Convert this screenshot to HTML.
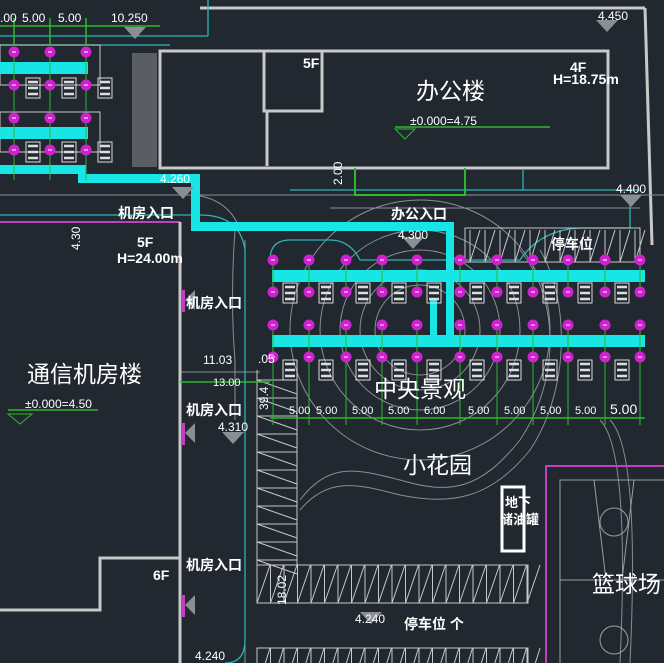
<!DOCTYPE html>
<html><head><meta charset="utf-8"><style>
html,body{margin:0;padding:0;background:#212830;}
svg{display:block}
text{font-family:"Liberation Sans","Noto Sans CJK SC",sans-serif;fill:#fff}
</style></head><body>
<svg id="s" width="664" height="663" viewBox="0 0 664 663" xmlns="http://www.w3.org/2000/svg">
<rect width="664" height="663" fill="#212830"/>
<g fill="none" stroke="#8a8f96" stroke-width="1">
<circle cx="420" cy="330" r="45"/><circle cx="420" cy="330" r="60"/><circle cx="420" cy="330" r="80"/>
<circle cx="420" cy="330" r="100"/><circle cx="420" cy="330" r="130"/>
<path d="M300 500 C330 460 360 470 400 480 C450 495 480 490 520 440 C560 380 560 300 520 250"/>
<path d="M300 510 C330 475 360 485 400 495 C450 505 490 500 530 450 C570 390 570 300 540 250"/>
<path d="M235 230 Q230 300 235 360 L235 420"/>
<path d="M195 195 Q230 200 240 230"/>
<path d="M600 420 Q630 450 620 663"/>
<path d="M610 420 Q640 450 630 663"/>
<line x1="200" y1="8" x2="645" y2="8" stroke="#c8c8c8" stroke-width="3"/>
<line x1="645" y1="8" x2="652" y2="245" stroke="#c8c8c8" stroke-width="3"/>
<line x1="0" y1="195" x2="664" y2="195"/>
<line x1="330" y1="208" x2="640" y2="208"/>
<line x1="245" y1="240" x2="245" y2="663"/>
<line x1="180" y1="372" x2="260" y2="372"/>
</g>
<g fill="none" stroke="#2ab4b8" stroke-width="1.3">
<line x1="0" y1="36" x2="208" y2="36"/><line x1="208" y1="0" x2="208" y2="36"/>
<line x1="0" y1="45" x2="170" y2="45"/>
<path d="M0 215 L200 215 Q240 215 245 250 L245 640 Q245 663 225 663"/>
<path d="M270 260 Q270 240 290 240 L330 240 Q350 240 360 260 L520 260 Q540 230 580 228 L630 228 L630 205"/>
<line x1="290" y1="190" x2="640" y2="190"/>
<line x1="523" y1="170" x2="523" y2="190"/>
</g>
<rect x="132" y="53" width="25" height="114" fill="#5a5e63"/>
<rect x="160" y="51" width="448" height="117" fill="none" stroke="#c8c8c8" stroke-width="3"/>
<rect x="264" y="51" width="58" height="60" fill="none" stroke="#c8c8c8" stroke-width="3"/>
<line x1="267" y1="111" x2="267" y2="166" stroke="#c8c8c8" stroke-width="3"/>
<path d="M355 168 L355 195 L465 195 L465 168" fill="none" stroke="#2eb82e" stroke-width="2"/>
<line x1="0" y1="222" x2="180" y2="222" stroke="#c040c0" stroke-width="2"/>
<path d="M180 222 L180 663 M180 558 L100 558 L100 610 L0 610" fill="none" stroke="#c8c8c8" stroke-width="3"/>
<g fill="#8a8f96"><path d="M185 300 l10 -10 v20z"/><path d="M185 433 l10 -10 v20z"/><path d="M185 605 l10 -10 v20z"/></g>
<g fill="#c040c0"><rect x="181" y="290" width="4" height="22"/><rect x="181" y="423" width="4" height="22"/><rect x="181" y="595" width="4" height="22"/></g>
<path d="M546 663 V466 H664" fill="none" stroke="#c040c0" stroke-width="2"/>
<g fill="none" stroke="#9a9ea4"><path d="M560 663 V480 H664"/><line x1="560" y1="580" x2="664" y2="580"/><circle cx="614" cy="522" r="14"/><circle cx="614" cy="640" r="14"/><path d="M594 480 L606 580 M634 480 L622 580"/></g>
<rect x="502" y="487" width="22" height="64" fill="none" stroke="#fff" stroke-width="3"/>
<g id="h" stroke="#c8c8c8" stroke-width="1" fill="none"></g>
<g fill="#18e6e6">
<rect x="0" y="62" width="88" height="12"/><rect x="0" y="127" width="88" height="12"/>
<rect x="0" y="165" width="84" height="9"/><rect x="78" y="165" width="8" height="18"/>
<rect x="78" y="174" width="122" height="9"/><rect x="191" y="174" width="9" height="57"/>
<rect x="191" y="222" width="263" height="9"/><rect x="446" y="222" width="8" height="118"/>
<rect x="430" y="300" width="7" height="40"/>
<rect x="272" y="270" width="373" height="12"/><rect x="272" y="335" width="373" height="12"/>
</g>
<g id="d"></g>
<g stroke="#2eb82e" stroke-width="1.5">
<line x1="0" y1="26" x2="160" y2="26"/><line x1="270" y1="418" x2="645" y2="418"/>
<line x1="180" y1="382" x2="270" y2="382"/>
<path d="M8 410 h90" /><path d="M395 127 h155"/>
</g>
<g><path d="M8 414 l12 10 l12 -10z" fill="none" stroke="#2eb82e"/><path d="M395 129 l10 10 l10 -10z" fill="none" stroke="#2eb82e"/></g>
<g fill="#8a8f96">
<path d="M620 195 h22 l-11 12z"/><path d="M596 20 h22 l-11 12z"/>
<path d="M402 237 h22 l-11 12z"/><path d="M222 432 h22 l-11 12z"/><path d="M360 612 h22 l-11 12z"/>
<path d="M124 27 h22 l-11 12z"/><path d="M172 187 h22 l-11 12z"/>
</g>
<g font-size="12" >
<text x="0" y="22">.00</text><text x="22" y="22">5.00</text><text x="58" y="22">5.00</text><text x="111" y="22">10.250</text>
<text x="598" y="20">4.450</text><text x="160" y="183">4.260</text><text x="616" y="193">4.400</text>
<text x="398" y="239">4.300</text><text x="218" y="431">4.310</text><text x="355" y="623">4.240</text>
<text x="203" y="364">11.03</text><text x="213" y="386" font-size="11">13.00</text>
<text x="258" y="363">.05</text><text x="195" y="660">4.240</text>
<text x="410" y="125">±0.000=4.75</text><text x="25" y="408">±0.000=4.50</text>
<text x="0" y="0" transform="translate(80,250) rotate(-90)">4.30</text>
<text x="0" y="0" transform="translate(268,410) rotate(-90)">39.4</text>
<text x="0" y="0" transform="translate(286,605) rotate(-90)">18.02</text>
<text x="0" y="0" transform="translate(342,185) rotate(-90)">2.00</text>
<g font-size="11"><text x="289" y="414">5.00</text><text x="316" y="414">5.00</text><text x="352" y="414">5.00</text><text x="388" y="414">5.00</text><text x="424" y="414">6.00</text><text x="468" y="414">5.00</text><text x="504" y="414">5.00</text><text x="540" y="414">5.00</text><text x="575" y="414">5.00</text></g>
<text x="610" y="414" font-size="14">5.00</text>
</g>
<g font-weight="bold" font-size="14">
<text x="303" y="68">5F</text><text x="570" y="72">4F</text><text x="553" y="84">H=18.75m</text>
<text x="137" y="247">5F</text><text x="117" y="263">H=24.00m</text><text x="153" y="580">6F</text>
<text x="118" y="218">机房入口</text><text x="186" y="308">机房入口</text><text x="186" y="415">机房入口</text><text x="186" y="570">机房入口</text>
<text x="391" y="219">办公入口</text><text x="551" y="249">停车位</text><text x="404" y="629">停车位 个</text>
<text x="505" y="507" font-size="13">地下</text><text x="500" y="524" font-size="13">储油罐</text>
</g>
<g font-size="23"><text x="416" y="99">办公楼</text><text x="27" y="382">通信机房楼</text><text x="374" y="397">中央景观</text><text x="403" y="473">小花园</text><text x="592" y="592">篮球场</text></g>
</svg>
<script>
var NS="http://www.w3.org/2000/svg",h=document.getElementById('h'),d=document.getElementById('d');
function el(p,t,a){var e=document.createElementNS(NS,t);for(var k in a)e.setAttribute(k,a[k]);p.appendChild(e);return e;}
[[565,603],[648,690]].forEach(function(r){el(h,'rect',{x:257,y:r[0],width:271,height:r[1]-r[0]});for(var x=257;x<528;x+=13.5){el(h,'line',{x1:x,y1:r[1],x2:x+13,y2:r[0]});el(h,'line',{x1:x,y1:r[0],x2:x,y2:r[1]});}});
el(h,'line',{x1:257,y1:370,x2:257,y2:565});el(h,'line',{x1:297,y1:370,x2:297,y2:565});
for(var y=380;y<565;y+=18){el(h,'line',{x1:257,y1:y,x2:297,y2:y});el(h,'line',{x1:257,y1:y,x2:297,y2:y+14});}
el(h,'rect',{x:465,y:228,width:175,height:34});
for(var x=470;x<640;x+=15){el(h,'line',{x1:x,y1:230,x2:x,y2:262});el(h,'line',{x1:x,y1:262,x2:x+10,y2:230});}
el(h,'rect',{x:0,y:45,width:100,height:40});el(h,'rect',{x:0,y:112,width:100,height:40});
var xs=[273,309,346,382,417,460,497,533,568,605,640],ys=[260,292,325,357];
function dot(x,y){el(d,'circle',{cx:x,cy:y,r:5.5,fill:'#d020d0'});el(d,'line',{x1:x-2,y1:y,x2:x+2,y2:y,stroke:'#fff','stroke-width':1});}
function box(x,y){el(d,'rect',{x:x,y:y,width:14,height:20,fill:'none',stroke:'#ddd','stroke-width':1});for(var k=0;k<3;k++)el(d,'line',{x1:x+2,y1:y+4+k*6,x2:x+12,y2:y+4+k*6,stroke:'#ddd','stroke-width':2.5});}
xs.forEach(function(x,i){el(d,'line',{x1:x,y1:260,x2:x,y2:292,stroke:'#2eb82e'});el(d,'line',{x1:x,y1:325,x2:x,y2:357,stroke:'#2eb82e'});el(d,'line',{x1:x,y1:362,x2:x,y2:425,stroke:'#2eb82e'});ys.forEach(function(y){dot(x,y);});if(i<10){box(x+10,283);box(x+10,360);}});
[14,50,86].forEach(function(x){[52,85,118,150].forEach(function(y){el(d,'line',{x1:x,y1:y,x2:x,y2:y+30,stroke:'#2eb82e'});dot(x,y);});el(d,'line',{x1:x,y1:18,x2:x,y2:45,stroke:'#2eb82e','stroke-width':1.5});box(x+12,78);box(x+12,142);});
</script>
</body></html>
